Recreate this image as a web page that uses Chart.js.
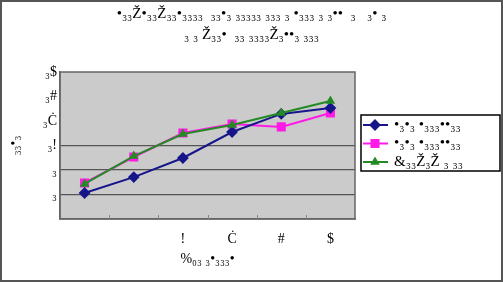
<!DOCTYPE html>
<html>
<head>
<meta charset="utf-8">
<script src="https://cdn.jsdelivr.net/npm/chart.js@4"></script>
<style>
  html, body { margin: 0; padding: 0; background: #fff; }
  #wrap { width: 503px; height: 282px; position: relative; }
</style>
</head>
<body>
<div id="wrap"><canvas id="chart"></canvas></div>
<script>
// chart data
const categories = ['', '', '!', 'Ċ', '#', '$'];
const yTickLabels = ['', '₃', '₃', '₃!', '₃Ċ', '₃#', '₃$'];

const seriesNames = ['•₃•₃ •₃₃₃••₃₃', '•₃•₃ •₃₃₃••₃₃', '&₃₃Ž₃Ž ₃ ₃₃'];
const navyValues = [1.06, 1.71, 2.49, 3.55, 4.29, 4.53];
const pinkValues = [1.47, 2.53, 3.51, 3.88, 3.76, 4.33];
const greenValues = [1.43, 2.57, 3.47, 3.84, 4.33, 4.82];

const titleLines = [
    '•₃₃Ž•₃₃Ž₃₃•₃₃₃₃  ₃₃•₃ ₃₃₃₃₃ ₃₃₃ ₃ •₃₃₃ ₃ ₃••  ₃   ₃• ₃',
    '₃ ₃ Ž₃₃•  ₃₃ ₃₃₃₃Ž₃••₃ ₃₃₃'
];
const xTitle = '%₀₃ ₃•₃₃₃•';
const yTitle = '₃₃•₃';

const serif = "'Liberation Serif', 'Times New Roman', serif";

// frame, gray plot area and its little tick marks
const framePlugin = {
    id: 'frame',
    beforeDraw(chart) {
        const { ctx, chartArea: a } = chart;
        ctx.save();
        ctx.fillStyle = '#fff';
        ctx.fillRect(0, 0, chart.width, chart.height);
        ctx.fillStyle = '#cbcbcb';
        ctx.fillRect(a.left, a.top, a.right - a.left, a.bottom - a.top);
        ctx.restore();
    },
    afterDatasetsDraw(chart) {
        const { ctx, chartArea: a } = chart;
        const xs = chart.scales.x;
        ctx.save();
        ctx.strokeStyle = '#666';
        ctx.lineWidth = 1.5;
        ctx.strokeRect(a.left, a.top, a.right - a.left, a.bottom - a.top);
        ctx.strokeStyle = '#888';
        ctx.lineWidth = 1;
        for (let i = 0; i < categories.length - 1; i++) {
            const x = Math.round((xs.getPixelForValue(i) + xs.getPixelForValue(i + 1)) / 2) + 0.5;
            ctx.beginPath();
            ctx.moveTo(x, a.bottom);
            ctx.lineTo(x, a.bottom - 4);
            ctx.stroke();
        }
        ctx.restore();
    },
    afterDraw(chart) {
        const { ctx } = chart;
        ctx.save();
        ctx.strokeStyle = '#555';
        ctx.lineWidth = 2;
        ctx.strokeRect(1, 1, chart.width - 2, chart.height - 2);
        ctx.restore();
    }
};

// boxed legend on the right, line + marker per series
const boxLegend = {
    id: 'boxLegend',
    afterDraw(chart) {
        const { ctx } = chart;
        const left = 361, top = 115, w = 139, h = 56;
        ctx.save();
        ctx.strokeStyle = '#000';
        ctx.lineWidth = 1.5;
        ctx.strokeRect(left, top, w, h);
        chart.data.datasets.forEach((ds, k) => {
            const y = top + 10 + k * 18.5;
            ctx.strokeStyle = ds.borderColor;
            ctx.lineWidth = 2;
            ctx.beginPath();
            ctx.moveTo(left + 2, y);
            ctx.lineTo(left + 27, y);
            ctx.stroke();
            ctx.fillStyle = ds.backgroundColor;
            Chart.helpers.drawPoint(ctx, {
                pointStyle: ds.pointStyle,
                radius: ds.pointRadius,
                borderWidth: 1
            }, left + 14, y);
            ctx.fillStyle = '#000';
            ctx.font = '15px ' + serif;
            ctx.textBaseline = 'middle';
            ctx.textAlign = 'left';
            ctx.fillText(ds.label, left + 33, y);
        });
        ctx.restore();
    }
};

const ctx = document.getElementById('chart').getContext('2d');

new Chart(ctx, {
    type: 'line',
    data: {
        labels: categories,
        datasets: [
            {
                label: seriesNames[0],
                data: navyValues,
                borderColor: '#16168a',
                backgroundColor: '#16168a',
                pointStyle: 'rectRot',
                pointRadius: 4.5,
                borderWidth: 2,
                order: 1
            },
            {
                label: seriesNames[1],
                data: pinkValues,
                borderColor: '#ff1ae6',
                backgroundColor: '#ff1ae6',
                pointStyle: 'rect',
                pointRadius: 5,
                borderWidth: 2,
                order: 2
            },
            {
                label: seriesNames[2],
                data: greenValues,
                borderColor: '#248a24',
                backgroundColor: '#248a24',
                pointStyle: 'triangle',
                pointRadius: 3.5,
                borderWidth: 2,
                order: 0
            }
        ]
    },
    options: {
        responsive: true,
        maintainAspectRatio: false,
        animation: false,
        devicePixelRatio: 1,
        layout: {
            padding: { left: 0, right: 0, top: 0, bottom: 8 }
        },
        plugins: {
            legend: { display: false },
            tooltip: { enabled: false },
            title: {
                display: true,
                text: titleLines,
                color: '#000',
                font: { family: serif, size: 15, weight: 'normal', lineHeight: 1.4 },
                padding: { top: 4, bottom: 26 }
            }
        },
        scales: {
            x: {
                offset: true,
                grid: { display: false, drawTicks: false },
                border: { display: true, color: '#666', width: 1.5 },
                ticks: {
                    color: '#000',
                    padding: 12,
                    maxRotation: 0,
                    autoSkip: false,
                    font: { family: serif, size: 14 }
                },
                title: {
                    display: true,
                    text: xTitle,
                    color: '#000',
                    font: { family: serif, size: 14 },
                    padding: { top: 0, bottom: 6 }
                },
                afterFit(scale) { scale.height = 55; }
            },
            y: {
                min: 0,
                max: 6,
                ticks: {
                    stepSize: 1,
                    color: '#000',
                    padding: 3,
                    font: { family: serif, size: 14 },
                    callback: (v, i) => yTickLabels[i]
                },
                grid: {
                    drawTicks: false,
                    lineWidth: 1.2,
                    color: c => (c.tick && c.tick.value >= 1 && c.tick.value <= 3) ? '#555' : 'rgba(0,0,0,0)'
                },
                border: { display: true, color: '#666', width: 1.5 },
                title: {
                    display: true,
                    text: yTitle,
                    color: '#000',
                    font: { family: serif, size: 14 },
                    padding: { top: 6, bottom: 0 }
                },
                afterFit(scale) { scale.width = 60; }
            },
            // empty right-hand axis that only reserves room for the boxed legend
            legendSpace: {
                position: 'right',
                display: true,
                ticks: { display: false },
                grid: { display: false, drawTicks: false },
                border: { display: false },
                afterFit(scale) { scale.width = 148; }
            }
        }
    },
    plugins: [framePlugin, boxLegend]
});
</script>
</body>
</html>
